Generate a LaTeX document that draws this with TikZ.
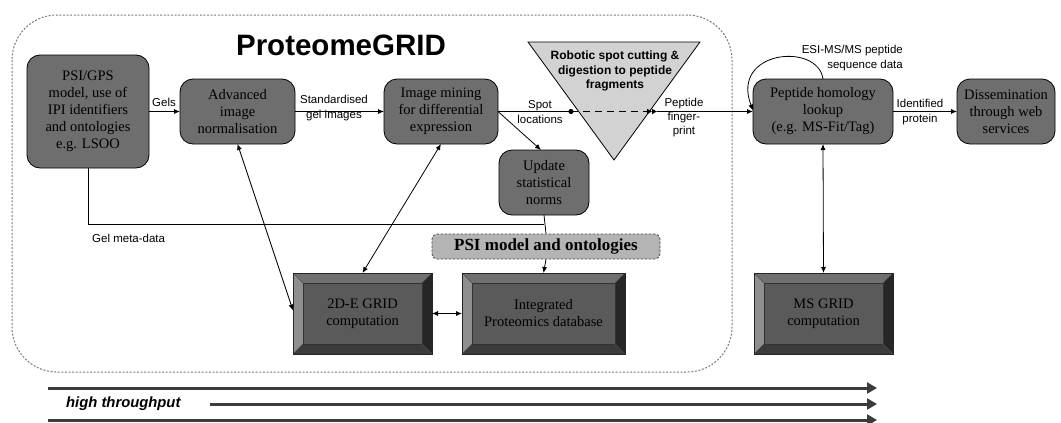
\documentclass[tikz,border=0pt]{standalone}
\usepackage{fontspec}
\setmainfont{Liberation Serif}
\setsansfont{Liberation Sans}
\usetikzlibrary{arrows.meta}
\definecolor{boxgray}{HTML}{6E6E6E}
\definecolor{bevface}{HTML}{5A5A5A}
\definecolor{bevtop}{HTML}{707070}
\definecolor{bevleft}{HTML}{8F8F8F}
\definecolor{bevright}{HTML}{262626}
\definecolor{bevbot}{HTML}{3B3B3B}
\definecolor{trigray}{HTML}{D2D2D2}
\definecolor{psigray}{HTML}{B4B4B4}
\definecolor{bigarrcol}{HTML}{3C3C3C}
\definecolor{framecol}{HTML}{7A7A7A}
\tikzset{
  rbox/.style={draw=black, line width=0.8pt, fill=boxgray, rounded corners=13pt,
    inner sep=0pt, outer sep=0pt, align=center, text=black,
    font=\fontsize{14.5}{17}\selectfont},
  bevelbox/.style={draw=black!85, line width=0.6pt, fill=bevface, inner sep=0pt, outer sep=0pt,
    align=center, text=black, font=\fontsize{14.5}{17}\selectfont,
    path picture={
      \coordinate (P1) at (path picture bounding box.north west);
      \coordinate (P2) at (path picture bounding box.north east);
      \coordinate (P3) at (path picture bounding box.south east);
      \coordinate (P4) at (path picture bounding box.south west);
      \coordinate (Q1) at ([shift={(10pt,-10pt)}]P1);
      \coordinate (Q2) at ([shift={(-10pt,-10pt)}]P2);
      \coordinate (Q3) at ([shift={(-10pt,10pt)}]P3);
      \coordinate (Q4) at ([shift={(10pt,10pt)}]P4);
      \fill[bevtop] (P1)--(P2)--(Q2)--(Q1)--cycle;
      \fill[bevleft] (P1)--(Q1)--(Q4)--(P4)--cycle;
      \fill[bevright] (P2)--(P3)--(Q3)--(Q2)--cycle;
      \fill[bevbot] (P4)--(P3)--(Q3)--(Q4)--cycle;
      \draw[black!80, line width=0.5pt] (Q1) rectangle (Q3);
      \draw[black!70, line width=0.4pt] (P1)--(Q1) (P2)--(Q2) (P3)--(Q3) (P4)--(Q4);
    }},
  lbl/.style={align=center, inner sep=0pt, font=\sffamily\fontsize{11.5}{14.5}\selectfont},
  conn/.style={line width=0.8pt, black},
  arr/.style={conn, -{Latex[length=6pt,width=5pt]}},
  darr/.style={conn, {Latex[length=6pt,width=5pt]}-{Latex[length=6pt,width=5pt]}},
  bigarr/.style={line width=3pt, draw=bigarrcol, -{Triangle[length=10pt,width=11pt]}},
}
\begin{document}
\begin{tikzpicture}[x=1pt,y=-1pt]
\useasboundingbox (0,0) rectangle (1061,423);

% container
\draw[framecol, line width=1pt, dash pattern=on 2pt off 1.6pt, rounded corners=45pt] (12,15) rectangle (732,372);
\node[font=\sffamily\bfseries\fontsize{29.5}{32}\selectfont, inner sep=0pt] (title) at (341,45) {ProteomeGRID};

% triangle
\draw[line width=0.8pt, fill=trigray] (528,42) -- (700,42) -- (614,160) -- cycle;
\node[align=center, inner sep=0pt, font=\sffamily\bfseries\fontsize{12}{14.5}\selectfont] (robot) at (615,71) {Robotic spot cutting \&\\digestion to peptide\\fragments};

% rounded boxes
\node[rbox, minimum width=122pt, minimum height=113pt] (psi) at (88,111.5) {PSI/GPS\\model, use of\\IPI identifiers\\and ontologies\\e.g. LSOO};
\node[rbox, minimum width=115pt, minimum height=65pt] (adv) at (237.5,111.5) {Advanced\\image\\normalisation};
\node[rbox, minimum width=114pt, minimum height=65pt] (mine) at (441,111.5) {Image mining\\for differential\\expression};
\node[rbox, minimum width=90pt, minimum height=65pt] (upd) at (544,182.5) {Update\\statistical\\norms};
\node[rbox, minimum width=140pt, minimum height=65pt] (pep) at (823,111.5) {Peptide homology\\lookup\\(e.g. MS-Fit/Tag)};
\node[rbox, minimum width=98pt, minimum height=65pt] (dis) at (1006,111.5) {Dissemination\\through web\\services};

% PSI model
\node[draw=black!70, line width=0.8pt, dash pattern=on 2.5pt off 1.5pt, fill=psigray, rounded corners=5pt,
  minimum width=228pt, minimum height=25pt, inner sep=0pt,
  font=\bfseries\fontsize{17}{20}\selectfont] (psim) at (546,246.5) {PSI model and ontologies};

% bevel boxes
\node[bevelbox, minimum width=139pt, minimum height=81pt] (grid2) at (362.5,313.5) {2D-E GRID\\computation};
\node[bevelbox, minimum width=163pt, minimum height=81pt] (ipd) at (543.5,313.5) {Integrated\\Proteomics database};
\node[bevelbox, minimum width=139pt, minimum height=81pt] (msg) at (823.5,313.5) {MS GRID\\computation};

% connectors
\draw[arr] (psi.east) -- (adv.west);
\node[lbl] (gels) at (164,102) {Gels};
\draw[arr] (adv.east) -- (mine.west);
\node[lbl] (std) at (334,108) {Standardised\\gel images};

\coordinate (dot1) at (571,111.5);
\coordinate (dot2) at (657,111.5);
\draw[conn] (mine.east) -- (dot1);
\fill (dot1) circle (2.6pt);
\draw[conn, dash pattern=on 7pt off 5pt, -{Latex[length=5pt,width=6pt]Latex[length=5pt,width=6pt]}] (dot1) -- (dot2);
\draw[arr] (dot2) -- (pep.west);
\node[lbl] (spot) at (540,112) {Spot\\locations};
\node[lbl, font=\sffamily\fontsize{11.5}{14}\selectfont] (fp) at (684,118) {Peptide\\finger-\\print};

\draw[arr] (mine.east) -- ([xshift=-3pt]upd.north);

\draw[arr] (pep.north) .. controls (818,42) and (730,50) .. ([yshift=1pt]pep.west);
\node[lbl, align=right, anchor=east] (esi) at (903,58) {ESI-MS/MS peptide\\sequence data};

\draw[arr] (pep.east) -- (dis.west);
\node[lbl] (ident) at (920,112) {Identified\\protein};

\draw[darr] (pep.south) -- (msg.north);

\coordinate (junc) at (upd.south |- 0,224);
\draw[conn] (psi.south) |- (junc);
\draw[conn] (upd.south) -- (psim.north);
\node[lbl, anchor=west] (gmd) at (92,238) {Gel meta-data};
\draw[arr] (psim.south) -- (ipd.north);

\draw[darr] (adv.south) -- ([yshift=3pt]grid2.west);
\draw[darr] (mine.south) -- (grid2.north);
\draw[darr] (grid2.east) -- (ipd.west);

% high throughput arrows
\coordinate (a1s) at (48,388); \coordinate (a1e) at (877,388);
\coordinate (a2s) at (210,404); \coordinate (a2e) at (877,404);
\coordinate (a3s) at (48,420); \coordinate (a3e) at (877,420);
\draw[bigarr] (a1s) -- (a1e);
\draw[bigarr] (a2s) -- (a2e);
\draw[bigarr] (a3s) -- (a3e);
\node[anchor=west, inner sep=0pt, font=\sffamily\bfseries\itshape\fontsize{14.8}{17}\selectfont] (ht) at (66,404) {high throughput};
\end{tikzpicture}
\end{document}
